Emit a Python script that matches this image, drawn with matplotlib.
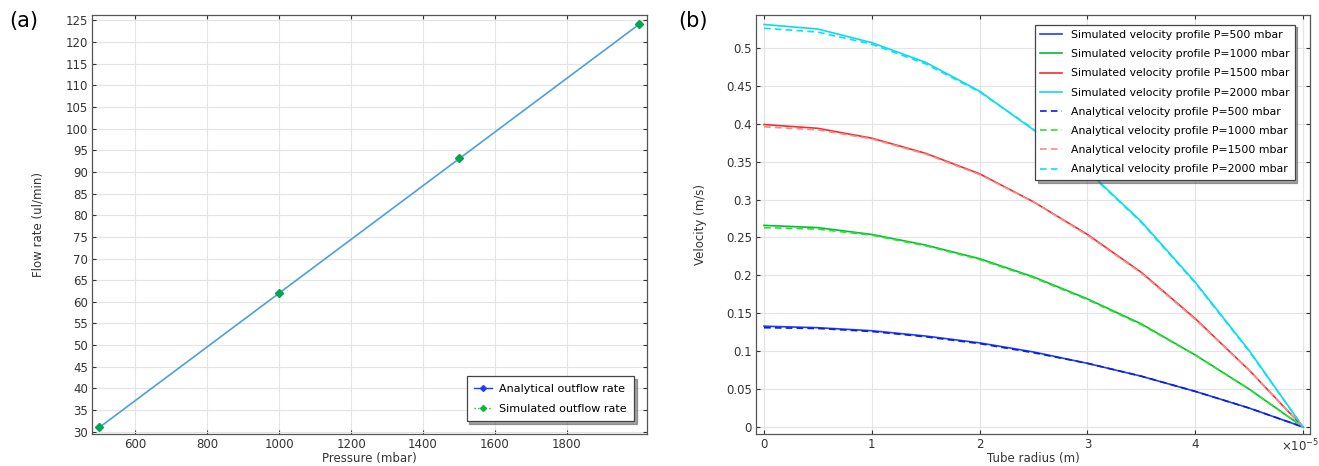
import numpy as np
import matplotlib.pyplot as plt
from matplotlib.lines import Line2D
from matplotlib.ticker import FuncFormatter

# (a) outflow rate vs pressure
pressure = [500, 1000, 1500, 2000]          # mbar
flow_analytical = [31.0, 62.0, 93.0, 124.0]  # ul/min
flow_simulated = [31.0, 62.1, 93.2, 124.2]

# (b) velocity profiles across the tube radius
radius = [0, 0.5e-5, 1.0e-5, 1.5e-5, 2.0e-5, 2.5e-5, 3.0e-5, 3.5e-5, 4.0e-5, 4.5e-5, 5.0e-5]
p_labels = ['500', '1000', '1500', '2000']
v_sim = [
    [0.133, 0.131, 0.127, 0.120, 0.111, 0.099, 0.084, 0.067, 0.047, 0.025, 0.0],
    [0.266, 0.263, 0.254, 0.240, 0.222, 0.198, 0.169, 0.136, 0.095, 0.050, 0.0],
    [0.399, 0.394, 0.381, 0.361, 0.334, 0.297, 0.254, 0.204, 0.143, 0.075, 0.0],
    [0.531, 0.525, 0.507, 0.481, 0.443, 0.392, 0.338, 0.271, 0.191, 0.101, 0.0],
]
v_ana = [
    [0.131, 0.130, 0.126, 0.119, 0.110, 0.098, 0.084, 0.067, 0.047, 0.025, 0.0],
    [0.263, 0.261, 0.253, 0.239, 0.221, 0.197, 0.168, 0.135, 0.095, 0.050, 0.0],
    [0.396, 0.392, 0.380, 0.360, 0.333, 0.297, 0.253, 0.203, 0.142, 0.075, 0.0],
    [0.526, 0.521, 0.505, 0.479, 0.442, 0.393, 0.337, 0.270, 0.190, 0.100, 0.0],
]
sim_colors = ['#1f3dff', '#00c030', '#f03030', '#10d8e8']
ana_colors = ['#0a1ee0', '#30e030', '#ff8888', '#00e5ff']

plt.rcParams['font.family'] = ['DejaVu Sans']
plt.rcParams['font.size'] = 8

fig = plt.figure(figsize=(13.19, 4.66), dpi=100)
ax1 = fig.add_axes([0.0698, 0.0687, 0.4208, 0.8991])
ax2 = fig.add_axes([0.5732, 0.0687, 0.4200, 0.8991])


def style_axes(ax):
    ax.grid(True, color='#e4e4e4', linewidth=0.8)
    ax.set_axisbelow(True)
    ax.tick_params(direction='in', length=3, width=0.8, top=True, right=True,
                   labelsize=8.5, colors='#333333', pad=3)
    for s in ax.spines.values():
        s.set_color('#555555')
        s.set_linewidth(0.9)


# panel (a)
ax1.plot(pressure, flow_analytical, color='#4d9fe0', linewidth=1.2)
ax1.plot(pressure, flow_simulated, linestyle='none', marker='D',
         markersize=4.5, color='#00a550')
ax1.set_xlim(480, 2023)
ax1.set_ylim(29.5, 126.2)
ax1.set_xticks(np.arange(600, 1801, 200))
ax1.set_yticks(np.arange(30, 126, 5))
ax1.set_xlabel('Pressure (mbar)', fontsize=8.5, color='#333333')
ax1.set_ylabel('Flow rate (ul/min)', fontsize=8.5, color='#333333')
ax1.xaxis.set_label_coords(0.5, -0.043)
ax1.yaxis.set_label_coords(-0.085, 0.5)
style_axes(ax1)

handles_a = [
    Line2D([], [], color='#1f3dff', linewidth=1, marker='D', markersize=3),
    Line2D([], [], color='#00c030', linewidth=1, linestyle=':', marker='D', markersize=3),
]
leg1 = ax1.legend(handles_a, ['Analytical outflow rate', 'Simulated outflow rate'],
                  loc='lower right', bbox_to_anchor=(0.987, 0.017), fontsize=8,
                  fancybox=False, shadow=True, edgecolor='#444444',
                  framealpha=1, handlelength=1.6, handletextpad=0.6,
                  borderpad=0.7, labelspacing=0.85)
leg1.get_frame().set_linewidth(0.9)

# panel (b)
for i, p in enumerate(p_labels):
    ax2.plot(radius, v_sim[i], color=sim_colors[i], linewidth=1.2,
             label=f'Simulated velocity profile P={p} mbar')
for i, p in enumerate(p_labels):
    ax2.plot(radius, v_ana[i], color=ana_colors[i], linewidth=1.2,
             linestyle=(0, (4, 2.5)),
             label=f'Analytical velocity profile P={p} mbar')
ax2.set_xlim(-0.074e-5, 5.065e-5)
ax2.set_ylim(-0.0092, 0.5435)
ax2.set_xticks(np.arange(0, 5.1e-5, 1e-5))
ax2.set_xticklabels(['0', '1', '2', '3', '4', ''])
ax2.yaxis.set_major_formatter(FuncFormatter(lambda v, pos: f'{v:.2f}'.rstrip('0').rstrip('.')))
ax2.set_yticks(np.arange(0, 0.51, 0.05))
ax2.set_xlabel('Tube radius (m)', fontsize=8.5, color='#333333')
ax2.set_ylabel('Velocity (m/s)', fontsize=8.5, color='#333333')
ax2.xaxis.set_label_coords(0.5, -0.043)
ax2.yaxis.set_label_coords(-0.088, 0.5)
style_axes(ax2)
# axis multiplier in place of the last tick label
ax2.annotate(r'×10$^{-5}$', xy=(4.80e-5, -0.009), xycoords=('data', 'axes fraction'),
             ha='left', va='top', fontsize=8.5, color='#333333')

leg2 = ax2.legend(loc='upper right', bbox_to_anchor=(0.982, 0.99), fontsize=7.8,
                  fancybox=False, shadow=True, edgecolor='#444444',
                  framealpha=1, handlelength=2.0, borderpad=0.5, labelspacing=0.85)
leg2.get_frame().set_linewidth(0.9)

fig.text(0.007, 0.955, '(a)', fontsize=15, va='center')
fig.text(0.514, 0.955, '(b)', fontsize=15, va='center')

fig.savefig('out.png', dpi=100, facecolor='white')
